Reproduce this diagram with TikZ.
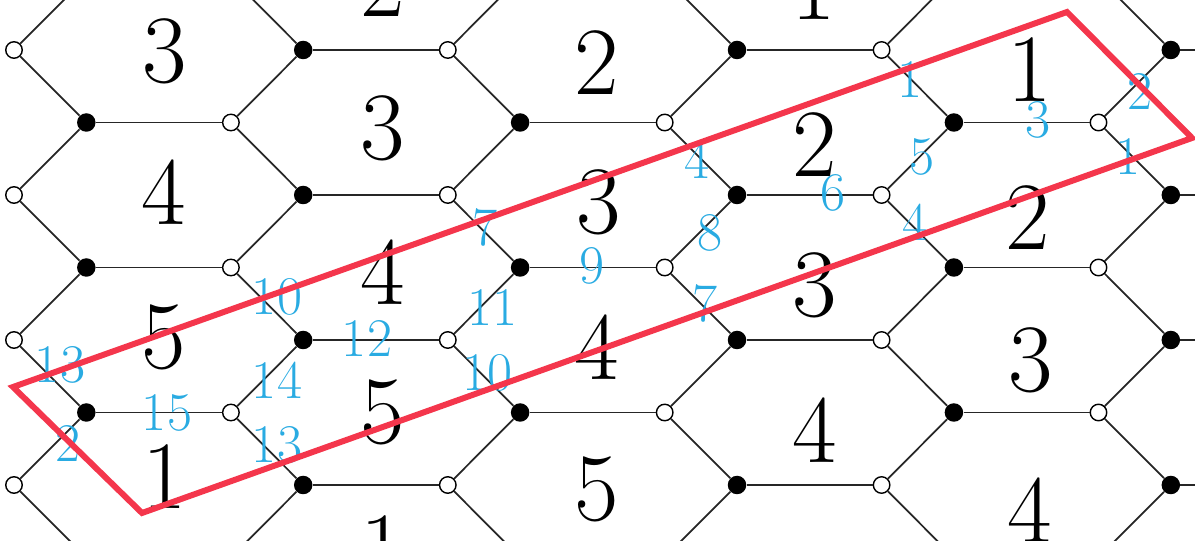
\documentclass[tikz,border=0pt]{standalone}
\usepackage{fontspec}
\usepackage{tikz}
\usetikzlibrary{positioning}
\definecolor{cutred}{RGB}{244,54,76}
\definecolor{edgeblue}{RGB}{41,171,226}
\tikzset{
  wvert/.style={circle, draw=black, fill=white, line width=0.8pt,
                inner sep=0pt, minimum size=3.3mm},
  bvert/.style={circle, fill=black, inner sep=0pt, minimum size=3.7mm},
  bond/.style={line width=1pt, black!85},
  face/.style={font=\fontsize{55}{60}\selectfont, inner sep=0pt},
  elbl/.style={font=\fontsize{31}{34}\selectfont, text=edgeblue, inner sep=0pt},
  cut/.style={line width=3.4pt, draw=cutred},
}

\begin{document}
\begin{tikzpicture}[x=0.2mm, y=-0.2mm]
  \useasboundingbox (0,0) rectangle (1195,541);
  \clip (0,0) rectangle (1195,541);
  % vertices: odd r = rows with white left, even r = rows with black left
  \foreach \r in {1,3,5,7} {
    \foreach \u in {0,6,12,18} \node[wvert] (w\u-\r) at ({14+72.3*\u},{72.5*\r-22.5}) {};
    \foreach \u in {4,10,16} \node[bvert] (b\u-\r) at ({14+72.3*\u},{72.5*\r-22.5}) {};
  }
  \foreach \r in {0,2,4,6,8} {
    \foreach \u in {1,7,13} \node[bvert] (b\u-\r) at ({14+72.3*\u},{72.5*\r-22.5}) {};
    \foreach \u in {3,9,15} \node[wvert] (w\u-\r) at ({14+72.3*\u},{72.5*\r-22.5}) {};
  }
  % horizontal edges
  \foreach \r in {1,3,5,7}
    \foreach \u/\v in {4/6,10/12,16/18} \draw[bond] (b\u-\r) -- (w\v-\r);
  \foreach \r in {0,2,4,6,8}
    \foreach \u/\v in {1/3,7/9,13/15} \draw[bond] (b\u-\r) -- (w\v-\r);
  % diagonal edges
  \foreach \r [evaluate=\r as \p using int(\r-1), evaluate=\r as \n using int(\r+1)] in {1,3,5,7} {
    \foreach \u/\v in {0/1,6/7,12/13} {
      \draw[bond] (w\u-\r) -- (b\v-\p);
      \draw[bond] (w\u-\r) -- (b\v-\n);
    }
    \foreach \u/\v in {4/3,10/9,16/15} {
      \draw[bond] (b\u-\r) -- (w\v-\p);
      \draw[bond] (b\u-\r) -- (w\v-\n);
    }
  }
  % face numbers
  \foreach \x/\y/\t [count=\i] in {165/51/3, 164/192/4, 164/337/5, 165/477/1,
      383/-15/2, 383/128/3, 383/272/4, 383/412/5, 383/548/1,
      597/63/2, 599/202/3, 597/347/4, 597/489/5,
      814/-12/1, 815/145/2, 815/285/3, 815/430/4,
      1030/70/1, 1028/218/2, 1031/360/3, 1030/510/4}
    \node[face] (f\i) at (\x,\y) {\t};
  % edge numbers
  \foreach \x/\y/\t [count=\i] in {910/80/1, 1140/92/2, 1038/120/3, 1128/157/1,
      697/160/4, 922/157/5, 833/193/6, 915/222/4,
      485/227/7, 710/233/8, 592/266/9, 705/303/7,
      277/297/10, 492/307/11, 367/338/12, 487/373/10,
      60/365/13, 277/380/14, 167/413/15, 68/443/2, 277/445/13}
    \node[elbl] (e\i) at (\x,\y) {\t};
  % fundamental domain
  \coordinate (p1) at (13,387);
  \coordinate (p2) at (1067,12);
  \coordinate (p3) at (1192,138);
  \coordinate (p4) at (142,513);
  \draw[cut] (p1) -- (p2) -- (p3) -- (p4) -- cycle;
\end{tikzpicture}
\end{document}
